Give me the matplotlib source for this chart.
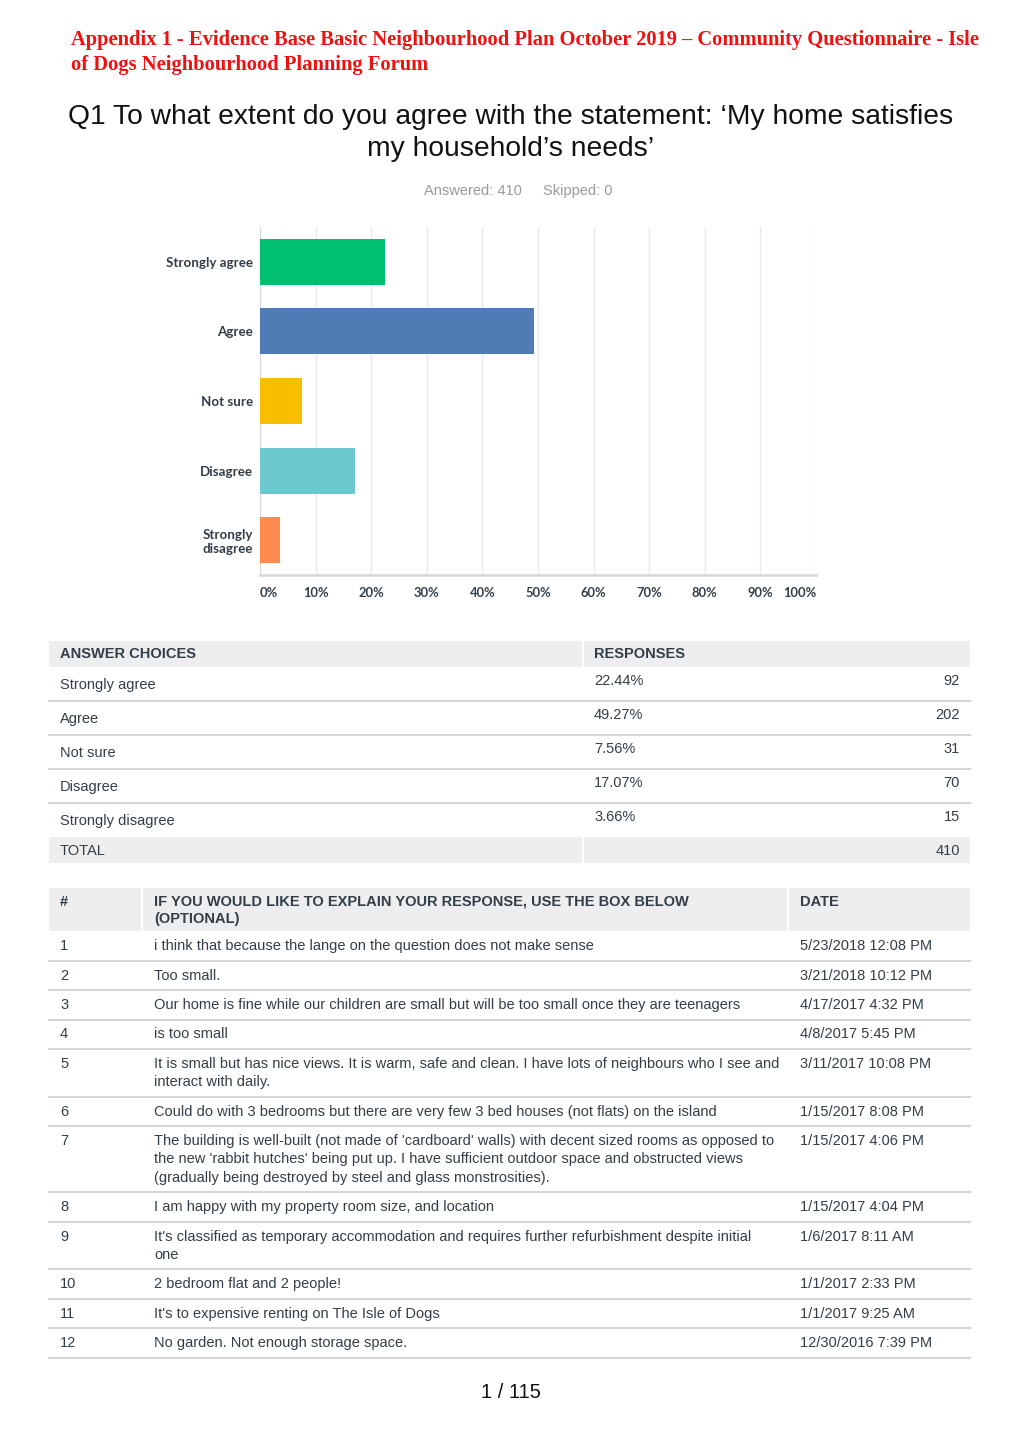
import matplotlib
matplotlib.use("Agg")
import matplotlib.pyplot as plt
from matplotlib.patches import Rectangle

# data
categories = ["Strongly agree", "Agree", "Not sure", "Disagree", "Strongly disagree"]
cat_labels = ["Strongly agree", "Agree", "Not sure", "Disagree", "Strongly\ndisagree"]
percents = [22.44, 49.27, 7.56, 17.07, 3.66]
counts = [92, 202, 31, 70, 15]
total = 410
bar_colors = ["#00bf6f", "#507cb6", "#f9be00", "#6bc8cd", "#ff8b4f"]
x_ticks = [0, 10, 20, 30, 40, 50, 60, 70, 80, 90, 100]

comments = [
    "i think that because the lange on the question does not make sense",
    "Too small.",
    "Our home is fine while our children are small but will be too small once they are teenagers",
    "is too small",
    "It is small but has nice views. It is warm, safe and clean. I have lots of neighbours who I see and\ninteract with daily.",
    "Could do with 3 bedrooms but there are very few 3 bed houses (not flats) on the island",
    "The building is well-built (not made of 'cardboard' walls) with decent sized rooms as opposed to\nthe new 'rabbit hutches' being put up. I have sufficient outdoor space and obstructed views\n(gradually being destroyed by steel and glass monstrosities).",
    "I am happy with my property room size, and location",
    "It's classified as temporary accommodation and requires further refurbishment despite initial\none",
    "2 bedroom flat and 2 people!",
    "It's to expensive renting on The Isle of Dogs",
    "No garden. Not enough storage space.",
]
dates = [
    "5/23/2018 12:08 PM", "3/21/2018 10:12 PM", "4/17/2017 4:32 PM", "4/8/2017 5:45 PM",
    "3/11/2017 10:08 PM", "1/15/2017 8:08 PM", "1/15/2017 4:06 PM", "1/15/2017 4:04 PM",
    "1/6/2017 8:11 AM", "1/1/2017 2:33 PM", "1/1/2017 9:25 AM", "12/30/2016 7:39 PM",
]

W, H = 1020, 1443
fig = plt.figure(figsize=(W / 100, H / 100), dpi=100)
fig.patch.set_facecolor("white")

# page axes in pixel coordinates
page = fig.add_axes([0, 0, 1, 1])
page.set_xlim(0, W)
page.set_ylim(H, 0)
page.axis("off")

sans = "Liberation Sans"
txt = "#333e48"
grid_line = "#d6d6d6"
head_bg = "#eeeeee"

# header
page.text(71, 40, "Appendix 1 - Evidence Base Basic Neighbourhood Plan October 2019 \u2013 Community Questionnaire - Isle",
          family="Liberation Serif", weight="bold", color="#ee1111", fontsize=14.75, va="center", ha="left")
page.text(71, 65, "of Dogs Neighbourhood Planning Forum",
          family="Liberation Serif", weight="bold", color="#ee1111", fontsize=14.75, va="center", ha="left")

page.text(511, 117, "Q1 To what extent do you agree with the statement: \u2018My home satisfies",
          family=sans, fontsize=20.3, color="#111111", ha="center", va="center")
page.text(511, 149, "my household\u2019s needs\u2019",
          family=sans, fontsize=20.3, color="#111111", ha="center", va="center")
page.text(473, 191, "Answered: 410", family=sans, fontsize=10.5, color="#9a9a9a", ha="center", va="center")
page.text(578, 191, "Skipped: 0", family=sans, fontsize=10.5, color="#9a9a9a", ha="center", va="center")

# bar chart
L, R, T, B = 260, 816, 227, 575
ax = fig.add_axes([L / W, 1 - B / H, (R - L) / W, (B - T) / H])
ypos = list(range(len(categories)))
ax.barh(ypos, percents, height=0.66, color=bar_colors, zorder=3)
ax.set_xlim(0, 100)
ax.set_ylim(len(categories) - 0.5, -0.5)
ax.set_xticks(x_ticks)
ax.set_xticklabels([])
ax.set_yticks(ypos)
ax.set_yticklabels(cat_labels, family="Lato", weight="bold", fontsize=9.6, color="#333e48")
ax.tick_params(axis="y", length=0, pad=5)
ax.tick_params(axis="x", length=0)
for lab in ax.get_yticklabels():
    lab.set_multialignment("left")
for t in x_ticks:
    ax.axvline(t, color="#eaeaea", lw=1, zorder=1)
for t in x_ticks:
    ha = "left" if t == 0 else ("right" if t == 100 else "center")
    ax.text(t, -0.053, f"{t}%", transform=ax.get_xaxis_transform(), ha=ha, va="center",
            family="Lato", weight="bold", fontsize=9.3, color="#333e48")
for s in ["top", "right"]:
    ax.spines[s].set_visible(False)
ax.spines["left"].set_color("#d9d9d9")
ax.spines["bottom"].set_color("#d9d9d9")
ax.spines["bottom"].set_linewidth(2)

# answer table
tx0, tx1 = 49, 970
page.add_patch(Rectangle((tx0, 641), 533, 26, color=head_bg, lw=0))
page.add_patch(Rectangle((584, 641), tx1 - 584, 26, color=head_bg, lw=0))
page.text(60, 654, "ANSWER CHOICES", family=sans, weight="bold", fontsize=10.5, color=txt, va="center")
page.text(594, 654, "RESPONSES", family=sans, weight="bold", fontsize=10.5, color=txt, va="center")
row_h = 34
for i, (c, p, n) in enumerate(zip(categories, percents, counts)):
    top = 667 + i * row_h
    page.text(60, top + 18, c, family=sans, fontsize=10.5, color=txt, va="center")
    page.text(594, top + 14, f"{p:.2f}%", family=sans, fontsize=10.5, color=txt, va="center")
    page.text(960, top + 14, str(n), family=sans, fontsize=10.5, color=txt, va="center", ha="right")
    if i < len(categories) - 1:
        page.plot([tx0, tx1], [top + row_h, top + row_h], color=grid_line, lw=1.5)
tot_top = 667 + len(categories) * row_h
page.add_patch(Rectangle((tx0, tot_top), 533, 26, color=head_bg, lw=0))
page.add_patch(Rectangle((584, tot_top), tx1 - 584, 26, color=head_bg, lw=0))
page.text(60, tot_top + 14, "TOTAL", family=sans, fontsize=10.5, color=txt, va="center")
page.text(960, tot_top + 14, str(total), family=sans, fontsize=10.5, color=txt, va="center", ha="right")

# comments table
h_top, h_bot = 888, 931
page.add_patch(Rectangle((tx0, h_top), 92, h_bot - h_top, color=head_bg, lw=0))
page.add_patch(Rectangle((143, h_top), 644, h_bot - h_top, color=head_bg, lw=0))
page.add_patch(Rectangle((789, h_top), tx1 - 789, h_bot - h_top, color=head_bg, lw=0))
page.text(60, 902, "#", family=sans, weight="bold", fontsize=10.5, color=txt, va="center")
page.text(154, 902, "IF YOU WOULD LIKE TO EXPLAIN YOUR RESPONSE, USE THE BOX BELOW", family=sans,
          weight="bold", fontsize=10.5, color=txt, va="center")
page.text(154, 919, "(OPTIONAL)", family=sans, weight="bold", fontsize=10.5, color=txt, va="center")
page.text(800, 902, "DATE", family=sans, weight="bold", fontsize=10.5, color=txt, va="center")

y = h_bot
for i, (c, d) in enumerate(zip(comments, dates)):
    lines = c.split("\n")
    rh = 29.5 + 18.2 * (len(lines) - 1)
    page.text(60, y + 15, str(i + 1), family=sans, fontsize=10.5, color=txt, va="center")
    for k, ln in enumerate(lines):
        page.text(154, y + 15 + 18.2 * k, ln, family=sans, fontsize=10.5, color=txt, va="center")
    page.text(800, y + 15, d, family=sans, fontsize=10.5, color=txt, va="center")
    y += rh
    page.plot([tx0, tx1], [y, y], color=grid_line, lw=1.5)

page.text(511, 1392, "1 / 115", family=sans, fontsize=14.5, color="#111111", ha="center", va="center")

fig.savefig("out.png", dpi=100, facecolor="white")
